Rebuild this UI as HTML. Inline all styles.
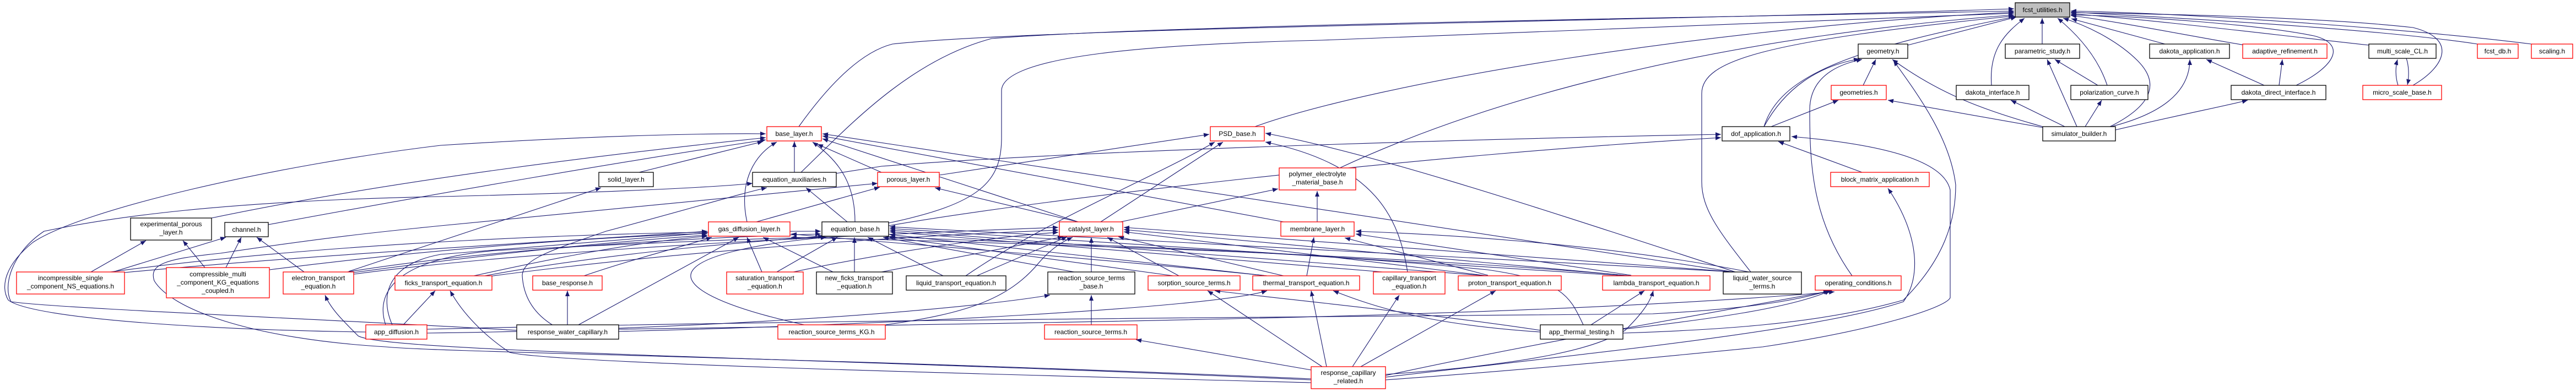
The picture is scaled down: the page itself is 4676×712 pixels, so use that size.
<!DOCTYPE html>
<html><head><meta charset="utf-8"><style>
html,body{margin:0;padding:0;background:#fff;}
svg{display:block;}
text{font-family:"Liberation Sans",Arial,sans-serif;font-size:12px;fill:#000;text-anchor:middle;}
.e{fill:none;stroke:#191970;stroke-width:1.1;marker-end:url(#a);}
.b{fill:#fff;stroke:#000;stroke-width:1.3;}
.r{fill:#fff;stroke:#ff0000;stroke-width:1.3;}
.g{fill:#bfbfbf;stroke:#000;stroke-width:1.3;}
</style></head><body>
<svg width="4676" height="712" viewBox="0 0 4676 712" xmlns="http://www.w3.org/2000/svg">
<defs><marker id="a" markerUnits="userSpaceOnUse" markerWidth="11" markerHeight="8" refX="10" refY="4" orient="auto"><path d="M0,0 L10,4 L0,8 z" fill="#191970"/></marker></defs>
<rect width="4676" height="712" fill="#fff"/>
<g>
<!-- to fcst_utilities -->
<path class="e" d="M1450,230 C1500,160 1560,95 1620,80 C1900,50 3000,38 3656,16"/>
<path class="e" d="M1454,313 C1540,230 1650,110 1800,70 C2100,45 3200,30 3656,20"/>
<path class="e" d="M1613,405 C1780,370 1818,330 1818,250 L1818,165 C1818,100 2100,80 2400,73 L3656,24"/>
<path class="e" d="M2278,230 C2500,150 3100,50 3656,22"/>
<path class="e" d="M2432,305 C2700,180 3100,70 3656,27"/>
<path class="e" d="M3178,494 C3120,420 3089,380 3089,330 L3089,170 C3089,110 3200,75 3656,29"/>
<path class="e" d="M3202,230 C3230,140 3350,90 3660,30"/>
<path class="e" d="M3463,82 L3660,31"/>
<path class="e" d="M3707,80 L3707,33"/>
<path class="e" d="M3615,155 C3610,90 3640,60 3675,33"/>
<path class="e" d="M3825,155 C3810,110 3780,70 3735,33"/>
<path class="e" d="M3830,230 C3890,200 3930,160 3880,110 C3850,80 3800,50 3745,33"/>
<path class="e" d="M3930,80 L3760,34"/>
<path class="e" d="M4075,82 C4000,70 3850,40 3759,28"/>
<path class="e" d="M4300,82 C4100,60 3900,35 3759,25"/>
<path class="e" d="M4497,80 C4300,50 3900,30 3759,22"/>
<path class="e" d="M4595,80 C4400,55 4000,25 3759,20"/>
<path class="e" d="M4168,155 C4240,120 4260,80 4200,65 C4100,45 3900,30 3759,27"/>
<path class="e" d="M4380,155 C4440,120 4460,70 4380,50 C4200,30 3900,25 3759,23"/>
<!-- geometry area -->
<path class="e" d="M3382,155 L3405,108"/>
<path class="e" d="M3202,230 C3240,160 3300,120 3375,107"/>
<path class="e" d="M3215,230 L3337,182"/>
<path class="e" d="M3362,501 C3290,400 3285,300 3285,200 C3285,150 3320,120 3380,108"/>
<path class="e" d="M3710,232 L3427,182"/>
<path class="e" d="M3708,230 C3600,200 3520,170 3435,108"/>
<path class="e" d="M3748,230 L3650,182"/>
<path class="e" d="M3770,230 L3716,108"/>
<path class="e" d="M3785,230 L3815,182"/>
<path class="e" d="M3808,155 L3730,108"/>
<path class="e" d="M3832,230 C3950,200 3975,150 3975,108"/>
<path class="e" d="M3840,236 C3950,210 4050,190 4080,182"/>
<path class="e" d="M4110,155 L4005,108"/>
<path class="e" d="M4137,155 L4143,108"/>
<path class="e" d="M4353,155 C4348,140 4348,122 4352,108"/>
<path class="e" d="M4368,106 C4373,120 4373,140 4370,154"/>
<path class="e" d="M3380,313 L3228,257"/>
<path class="e" d="M2946,605 C3100,600 3300,590 3455,545 C3530,470 3550,400 3550,336 C3540,250 3480,170 3437,110"/>
<path class="e" d="M2515,690 C2800,670 3100,640 3200,630 C3400,600 3530,560 3540,541 L3540,345 C3530,300 3450,265 3252,248"/>
<path class="e" d="M2515,685 C2900,640 3300,600 3455,548 C3490,500 3480,420 3427,342"/>
<path class="e" d="M2946,598 C3100,580 3250,560 3322,528"/>
<path class="e" d="M2515,682 C2800,620 3100,570 3325,528"/>
<path class="e" d="M1517,315 L1600,302 C2000,270 2800,250 3124,244"/>
<path class="e" d="M1613,410 C1900,360 2600,280 3124,250"/>
<!-- PSD / polymer / porous -->
<path class="e" d="M1705,318 L2195,244"/>
<path class="e" d="M1753,501 C1900,400 2100,320 2205,258"/>
<path class="e" d="M1998,403 L2220,258"/>
<path class="e" d="M2555,494 C2540,400 2500,300 2297,258"/>
<path class="e" d="M3150,494 C2800,380 2500,280 2297,242"/>
<path class="e" d="M2034,403 L2320,343"/>
<path class="e" d="M2391,403 L2391,347"/>
<path class="e" d="M1373,403 L1597,340"/>
<path class="e" d="M1957,403 L1697,341"/>
<path class="e" d="M2380,688 C1500,650 800,640 700,630 C450,615 310,560 280,510 C270,480 300,470 400,460 C600,430 700,420 800,410 C1100,380 1400,350 1593,333"/>
<!-- base_layer -->
<path class="e" d="M384,396 C700,330 1100,280 1390,250"/>
<path class="e" d="M487,408 C800,350 1150,290 1390,254"/>
<path class="e" d="M1160,313 L1385,257"/>
<path class="e" d="M1442,313 L1442,257"/>
<path class="e" d="M1356,403 C1340,330 1370,280 1410,258"/>
<path class="e" d="M1552,403 C1552,330 1520,290 1475,258"/>
<path class="e" d="M1600,313 L1484,262"/>
<path class="e" d="M1957,403 L1493,252"/>
<path class="e" d="M2330,403 L1493,247"/>
<path class="e" d="M3147,494 L1493,243"/>
<path class="e" d="M664,603 C400,600 60,580 15,545 C0,520 10,480 60,440 C150,380 500,300 800,264 C1100,245 1300,242 1390,243"/>
<!-- equation_auxiliaries / solid -->
<path class="e" d="M938,600 C600,580 100,560 20,548 C5,520 20,460 80,420 C200,395 400,365 800,357 C1100,350 1300,340 1366,333"/>
<path class="e" d="M1538,403 L1463,341"/>
<path class="e" d="M1004,591 C970,570 950,540 948,500 C950,470 1000,455 1100,420 C1250,380 1350,350 1392,341"/>
<path class="e" d="M633,493 L1091,341"/>
<!-- gas_diffusion_layer -->
<path class="e" d="M226,495 C600,460 1000,440 1284,420"/>
<path class="e" d="M489,490 C800,450 1100,430 1284,424"/>
<path class="e" d="M642,495 C900,460 1100,440 1284,427"/>
<path class="e" d="M860,501 C1000,470 1150,440 1284,429"/>
<path class="e" d="M1060,501 C1150,470 1250,445 1292,431"/>
<path class="e" d="M1383,494 L1356,431"/>
<path class="e" d="M1512,494 L1385,431"/>
<path class="e" d="M1050,590 L1341,431"/>
<path class="e" d="M712,590 C690,540 700,480 800,462 C1000,445 1200,430 1284,423"/>
<path class="e" d="M1460,590 C1300,555 1245,520 1255,495 C1270,460 1400,440 1500,431"/>
<path class="e" d="M2300,501 C2000,470 1600,440 1436,425"/>
<path class="e" d="M2960,501 C2500,460 1800,440 1436,431"/>
<!-- equation_base -->
<path class="e" d="M1410,494 L1520,431"/>
<path class="e" d="M1551,494 L1551,431"/>
<path class="e" d="M1712,501 L1575,431"/>
<path class="e" d="M200,494 C600,440 1100,420 1490,420"/>
<path class="e" d="M630,494 C900,450 1300,430 1490,425"/>
<path class="e" d="M880,501 C1100,460 1350,440 1495,429"/>
<path class="e" d="M700,590 C680,530 720,470 900,455 C1200,440 1400,432 1500,431"/>
<path class="e" d="M1950,494 L1603,431"/>
<path class="e" d="M2130,501 L1612,430"/>
<path class="e" d="M2300,501 L1615,426"/>
<path class="e" d="M2510,494 L1615,421"/>
<path class="e" d="M2700,501 L1615,418"/>
<path class="e" d="M2950,501 L1615,415"/>
<path class="e" d="M3150,494 L1615,412"/>
<!-- catalyst_layer -->
<path class="e" d="M642,498 C1000,450 1600,425 1921,413"/>
<path class="e" d="M880,503 C1200,460 1600,430 1921,418"/>
<path class="e" d="M1440,494 C1600,460 1800,430 1921,422"/>
<path class="e" d="M1600,494 L1930,430"/>
<path class="e" d="M1773,501 L1937,430"/>
<path class="e" d="M1981,494 L1981,431"/>
<path class="e" d="M2140,501 L2010,431"/>
<path class="e" d="M2330,501 L2030,430"/>
<path class="e" d="M2700,501 L2040,421"/>
<path class="e" d="M2960,501 L2040,417"/>
<path class="e" d="M3150,494 L2040,413"/>
<path class="e" d="M1607,590 C1750,570 1830,545 1886,477 C1905,455 1925,440 1947,431"/>
<!-- membrane -->
<path class="e" d="M2372,501 L2385,431"/>
<path class="e" d="M2701,500 L2441,432"/>
<path class="e" d="M2961,500 L2461,425"/>
<path class="e" d="M3175,494 C2900,440 2600,425 2461,420"/>
<!-- channel / experimental -->
<path class="e" d="M205,494 L410,431"/>
<path class="e" d="M410,486 L438,431"/>
<path class="e" d="M552,494 L466,431"/>
<path class="e" d="M165,494 L265,437"/>
<path class="e" d="M372,486 L332,437"/>
<!-- lower -->
<path class="e" d="M2380,690 C1500,650 700,640 650,610 C620,580 600,560 590,536"/>
<path class="e" d="M2380,695 C1800,680 1000,660 925,640 C880,610 840,570 817,528"/>
<path class="e" d="M732,590 L790,528"/>
<path class="e" d="M1030,590 L1030,528"/>
<path class="e" d="M1981,590 L1981,536"/>
<path class="e" d="M2400,666 L2192,528"/>
<path class="e" d="M2796,600 C2600,570 2300,540 2205,528"/>
<path class="e" d="M2408,666 L2380,528"/>
<path class="e" d="M2796,603 C2600,590 2500,560 2420,528"/>
<path class="e" d="M2455,666 L2540,536"/>
<path class="e" d="M2470,666 L2715,528"/>
<path class="e" d="M2888,590 L2985,528"/>
<path class="e" d="M2515,680 C2800,660 2900,630 2950,600 C2980,570 2995,550 3001,528"/>
<path class="e" d="M2380,672 L2062,617"/>
<path class="e" d="M775,598 C1500,580 2500,575 3000,570 C3200,560 3280,540 3320,528"/>
<path class="e" d="M1123,598 C2000,585 2800,575 3330,530"/>
<path class="e" d="M775,605 C1200,600 1700,570 1906,536"/>
<path class="e" d="M1123,602 C1600,590 2200,560 2300,528"/>
<path class="e" d="M2874,590 C2850,540 2840,510 2700,490 C2300,450 1800,440 1615,430"/>
</g>
<g>
<rect class="g" x="3658" y="5" width="99" height="26"/><text x="3707.5" y="22">fcst_utilities.h</text>
<rect class="b" x="3373" y="80" width="90" height="26"/><text x="3418" y="97">geometry.h</text>
<rect class="b" x="3640" y="80" width="135" height="26"/><text x="3707.5" y="97">parametric_study.h</text>
<rect class="b" x="3902" y="80" width="145" height="26"/><text x="3974.5" y="97">dakota_application.h</text>
<rect class="r" x="4071" y="80" width="153" height="26"/><text x="4147.5" y="97">adaptive_refinement.h</text>
<rect class="b" x="4300" y="80" width="122" height="26"/><text x="4361" y="97">multi_scale_CL.h</text>
<rect class="r" x="4497" y="80" width="74" height="26"/><text x="4534" y="97">fcst_db.h</text>
<rect class="r" x="4595" y="80" width="75" height="26"/><text x="4632.5" y="97">scaling.h</text>
<rect class="r" x="3324" y="155" width="100" height="26"/><text x="3374" y="172">geometries.h</text>
<rect class="b" x="3551" y="155" width="132" height="26"/><text x="3617" y="172">dakota_interface.h</text>
<rect class="b" x="3759" y="155" width="140" height="26"/><text x="3829" y="172">polarization_curve.h</text>
<rect class="b" x="4050" y="155" width="172" height="26"/><text x="4136" y="172">dakota_direct_interface.h</text>
<rect class="r" x="4289" y="155" width="143" height="26"/><text x="4360.5" y="172">micro_scale_base.h</text>
<rect class="r" x="1392" y="230" width="99" height="26"/><text x="1441.5" y="247">base_layer.h</text>
<rect class="r" x="2197" y="230" width="98" height="26"/><text x="2246" y="247">PSD_base.h</text>
<rect class="b" x="3126" y="230" width="123" height="26"/><text x="3187.5" y="247">dof_application.h</text>
<rect class="b" x="3708" y="230" width="132" height="26"/><text x="3774" y="247">simulator_builder.h</text>
<rect class="b" x="1087" y="313" width="99" height="26"/><text x="1136.5" y="330">solid_layer.h</text>
<rect class="b" x="1366" y="313" width="152" height="26"/><text x="1442" y="330">equation_auxiliaries.h</text>
<rect class="r" x="1593" y="313" width="112" height="26"/><text x="1649" y="330">porous_layer.h</text>
<rect class="r" x="2322" y="305" width="139" height="40"/><text x="2391.5" y="320">polymer_electrolyte</text><text x="2391.5" y="335">_material_base.h</text>
<rect class="r" x="3323" y="313" width="179" height="26"/><text x="3412.5" y="330">block_matrix_application.h</text>
<rect class="b" x="237" y="396" width="147" height="40"/><text x="310.5" y="411">experimental_porous</text><text x="310.5" y="426">_layer.h</text>
<rect class="b" x="408" y="404" width="79" height="26"/><text x="447.5" y="421">channel.h</text>
<rect class="r" x="1286" y="403" width="148" height="26"/><text x="1360" y="420">gas_diffusion_layer.h</text>
<rect class="b" x="1492" y="403" width="121" height="26"/><text x="1552.5" y="420">equation_base.h</text>
<rect class="r" x="1923" y="403" width="115" height="26"/><text x="1980.5" y="420">catalyst_layer.h</text>
<rect class="r" x="2325" y="403" width="133" height="26"/><text x="2391.5" y="420">membrane_layer.h</text>
<rect class="r" x="30" y="494" width="196" height="40"/><text x="128" y="509">incompressible_single</text><text x="128" y="524">_component_NS_equations.h</text>
<rect class="r" x="302" y="486" width="187" height="55"/><text x="395.5" y="502">compressible_multi</text><text x="395.5" y="517">_component_KG_equations</text><text x="395.5" y="532">_coupled.h</text>
<rect class="r" x="514" y="494" width="128" height="40"/><text x="578" y="509">electron_transport</text><text x="578" y="524">_equation.h</text>
<rect class="r" x="717" y="501" width="176" height="26"/><text x="805" y="518">ficks_transport_equation.h</text>
<rect class="r" x="967" y="501" width="126" height="26"/><text x="1030" y="518">base_response.h</text>
<rect class="r" x="1319" y="494" width="139" height="40"/><text x="1388.5" y="509">saturation_transport</text><text x="1388.5" y="524">_equation.h</text>
<rect class="b" x="1482" y="494" width="138" height="40"/><text x="1551" y="509">new_ficks_transport</text><text x="1551" y="524">_equation.h</text>
<rect class="b" x="1645" y="501" width="181" height="26"/><text x="1735.5" y="518">liquid_transport_equation.h</text>
<rect class="b" x="1902" y="494" width="158" height="40"/><text x="1981" y="509">reaction_source_terms</text><text x="1981" y="524">_base.h</text>
<rect class="r" x="2084" y="501" width="167" height="26"/><text x="2167.5" y="518">sorption_source_terms.h</text>
<rect class="r" x="2274" y="501" width="194" height="26"/><text x="2371" y="518">thermal_transport_equation.h</text>
<rect class="r" x="2493" y="494" width="130" height="40"/><text x="2558" y="509">capillary_transport</text><text x="2558" y="524">_equation.h</text>
<rect class="r" x="2647" y="501" width="187" height="26"/><text x="2740.5" y="518">proton_transport_equation.h</text>
<rect class="r" x="2909" y="501" width="195" height="26"/><text x="3006.5" y="518">lambda_transport_equation.h</text>
<rect class="b" x="3128" y="494" width="142" height="40"/><text x="3199" y="509">liquid_water_source</text><text x="3199" y="524">_terms.h</text>
<rect class="r" x="3295" y="501" width="156" height="26"/><text x="3373" y="518">operating_conditions.h</text>
<rect class="r" x="664" y="590" width="111" height="26"/><text x="719.5" y="607">app_diffusion.h</text>
<rect class="b" x="938" y="590" width="185" height="26"/><text x="1030.5" y="607">response_water_capillary.h</text>
<rect class="r" x="1412" y="590" width="195" height="26"/><text x="1509.5" y="607">reaction_source_terms_KG.h</text>
<rect class="r" x="1896" y="590" width="168" height="26"/><text x="1980" y="607">reaction_source_terms.h</text>
<rect class="b" x="2796" y="590" width="150" height="26"/><text x="2871" y="607">app_thermal_testing.h</text>
<rect class="r" x="2380" y="666" width="135" height="40"/><text x="2447.5" y="681">response_capillary</text><text x="2447.5" y="696">_related.h</text>
</g>
</svg>
</body></html>
